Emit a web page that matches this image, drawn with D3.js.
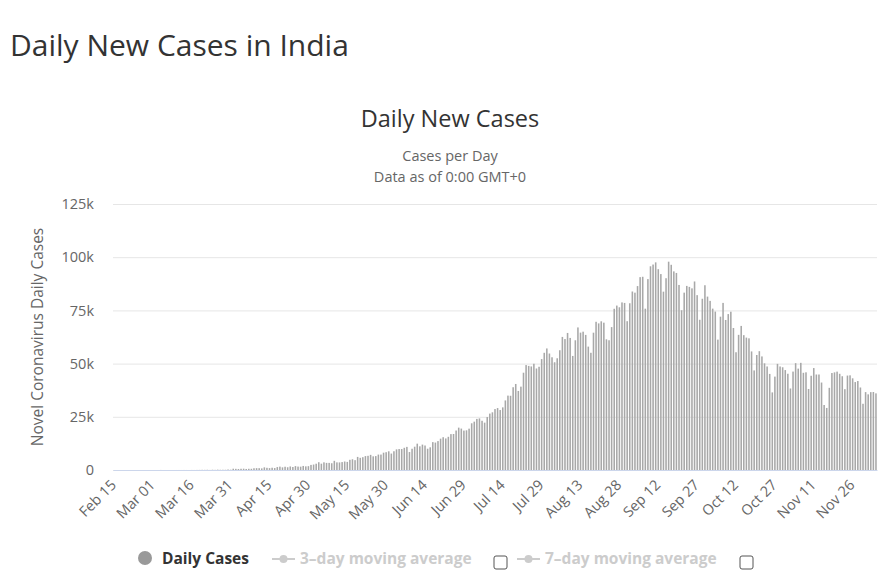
<!DOCTYPE html>
<html>
<head>
<meta charset="utf-8">
<script src="https://cdn.jsdelivr.net/npm/d3@7"></script>
<style>
  html, body { margin: 0; padding: 0; background: #fff; }
  svg { display: block; }
  text { font-family: "Open Sans", "DejaVu Sans", sans-serif; }
</style>
</head>
<body>
<svg id="chart" width="891" height="577"></svg>
<script>
// ---- Data ----
const startDate = "2020-02-15";
const feb = [0,0,0,0,0,0,0,0,0,0,0,0,0,0,0];
const mar = [0,2,1,22,2,1,3,5,4,6,11,9,20,11,6,23,14,38,50,86,66,103,37,121,70,160,100,112,106,227,146];
const apr = [601,545,478,577,608,489,573,565,813,871,854,758,1243,1031,886,1061,922,1371,1580,1239,1537,1292,1667,1408,1835,1607,1568,1902,1705,1801];
const may = [2396,2564,2952,3656,2971,3602,3344,3339,3175,4311,3592,3562,3726,3991,3808,4794,5049,4628,6154,5720,6023,6536,6667,7111,6414,6535,7246,7254,8138,8364,8789];
const jun = [7723,8812,9689,9849,9847,10438,10864,8442,9987,10956,12378,11128,11929,11509,10001,10667,13103,12891,13586,14721,15413,14831,15600,16868,16922,18552,19906,19459,18522,18653];
const jul = [19428,21947,22718,24018,24248,23135,22252,24879,26506,27114,28637,29108,28178,29429,32695,34956,34884,38902,40425,37148,39170,45720,49310,48916,48661,49931,47703,48513,52123,55079,57118];
const aug = [54735,52972,50629,52509,56282,62538,61537,64399,62064,53601,60963,66999,64553,65002,63490,57981,55079,64531,69652,68898,69878,69239,61408,60975,67151,75760,77266,76472,78761,78512,69921];
const sep = [78357,83883,83341,86432,90632,90802,75809,89706,95735,96551,97570,94372,92071,83809,90123,97894,96424,93337,92605,86961,75083,83347,86508,86052,85362,88600,82170,70589,80472,86821];
const oct = [81484,79476,75829,74442,61267,72049,78524,70496,73272,74383,66732,55342,63509,67708,63371,62212,61871,55722,46790,54044,55839,53370,50129,48648,45149,36469,43893,49881,48648,48268,46963];
const nov = [45231,38310,46253,50209,47638,50357,45674,45903,38074,44281,47905,44879,44878,41100,30548,29164,38617,45576,45882,46232,45209,44059,37975,44376,44489,43082,41322,41810,38772,31118];
const dec = [36604,35551,36594,36652,36011];
const yTicks = [0, 25000, 50000, 75000, 100000, 125000];
const yTickLabels = ["0", "25k", "50k", "75k", "100k", "125k"];
const xTickEvery = 15;

const values = [].concat(feb, mar, apr, may, jun, jul, aug, sep, oct, nov, dec);
const parse = d3.timeParse("%Y-%m-%d");
const fmt = d3.timeFormat("%b %d");
const d0 = parse(startDate);
const data = values.map((v, i) => ({ i, date: d3.timeDay.offset(d0, i), v }));

// ---- Layout ----
const svg = d3.select("#chart");
const plotL = 113, plotR = 877, plotT = 204, plotB = 470;

const x = d3.scaleBand().domain(data.map(d => d.i)).range([plotL, plotR]).paddingInner(0.4).paddingOuter(0.1);
const y = d3.scaleLinear().domain([0, 125000]).range([plotB, plotT]);

// Page title
svg.append("text").attr("x", 10).attr("y", 56)
  .attr("font-size", 30).attr("fill", "#333").text("Daily New Cases in India");

// Chart title / subtitle
svg.append("text").attr("x", 450).attr("y", 127).attr("text-anchor", "middle")
  .attr("font-size", 23.5).attr("fill", "#333").text("Daily New Cases");
svg.append("text").attr("x", 450).attr("y", 161).attr("text-anchor", "middle")
  .attr("font-size", 14.5).attr("fill", "#666").text("Cases per Day");
svg.append("text").attr("x", 450).attr("y", 182).attr("text-anchor", "middle")
  .attr("font-size", 14.5).attr("fill", "#666").text("Data as of 0:00 GMT+0");

// Gridlines + y labels
const yAxis = d3.axisLeft(y).tickValues(yTicks).tickSize(-(plotR - plotL)).tickPadding(19)
  .tickFormat((d, i) => yTickLabels[i]);
const gy = svg.append("g").attr("transform", `translate(${plotL},0)`).call(yAxis);
gy.select(".domain").remove();
gy.selectAll(".tick line").attr("stroke", "#e6e6e6");
gy.selectAll(".tick text").attr("fill", "#666").attr("font-size", 14.5)
  .attr("font-family", '"Open Sans", sans-serif');

// Y axis title
svg.append("text").attr("transform", "translate(43,337) rotate(-90)")
  .attr("text-anchor", "middle").attr("font-size", 15.5).attr("fill", "#666")
  .text("Novel Coronavirus Daily Cases");

// Bars
svg.append("g").selectAll("rect").data(data).join("rect")
  .attr("x", d => x(d.i)).attr("width", x.bandwidth())
  .attr("y", d => y(d.v)).attr("height", d => plotB - y(d.v))
  .attr("fill", "#a8a8a8");

// X axis
const xAxis = d3.axisBottom(x)
  .tickValues(data.filter(d => d.i % xTickEvery === 0).map(d => d.i))
  .tickSize(0).tickFormat(i => fmt(data[i].date));
const gx = svg.append("g").attr("transform", `translate(0,${plotB})`).call(xAxis);
gx.select(".domain").attr("stroke", "#ccd6eb");
gx.selectAll(".tick text")
  .attr("fill", "#666").attr("font-size", 14.5).attr("font-family", '"Open Sans", sans-serif')
  .attr("text-anchor", "end").attr("dy", null).attr("y", 0)
  .attr("transform", "translate(3,16) rotate(-45)");

// Legend
const lg = svg.append("g");
lg.append("circle").attr("cx", 145).attr("cy", 558).attr("r", 7).attr("fill", "#999");
lg.append("text").attr("x", 162).attr("y", 564).attr("font-size", 15.5).attr("font-weight", "bold")
  .attr("fill", "#333").text("Daily Cases");
function disabledItem(x0, label, boxX) {
  lg.append("line").attr("x1", x0).attr("x2", x0 + 23).attr("y1", 559).attr("y2", 559)
    .attr("stroke", "#ccc").attr("stroke-width", 2);
  lg.append("circle").attr("cx", x0 + 11.5).attr("cy", 559).attr("r", 4).attr("fill", "#ccc");
  lg.append("text").attr("x", x0 + 28).attr("y", 564).attr("font-size", 15.5).attr("font-weight", "bold")
    .attr("fill", "#ccc").text(label);
  lg.append("rect").attr("x", boxX).attr("y", 556).attr("width", 13).attr("height", 13)
    .attr("rx", 2).attr("fill", "#fff").attr("stroke", "#555").attr("stroke-width", 1);
}
disabledItem(272, "3–day moving average", 494);
disabledItem(517, "7–day moving average", 740);
</script>
</body>
</html>
